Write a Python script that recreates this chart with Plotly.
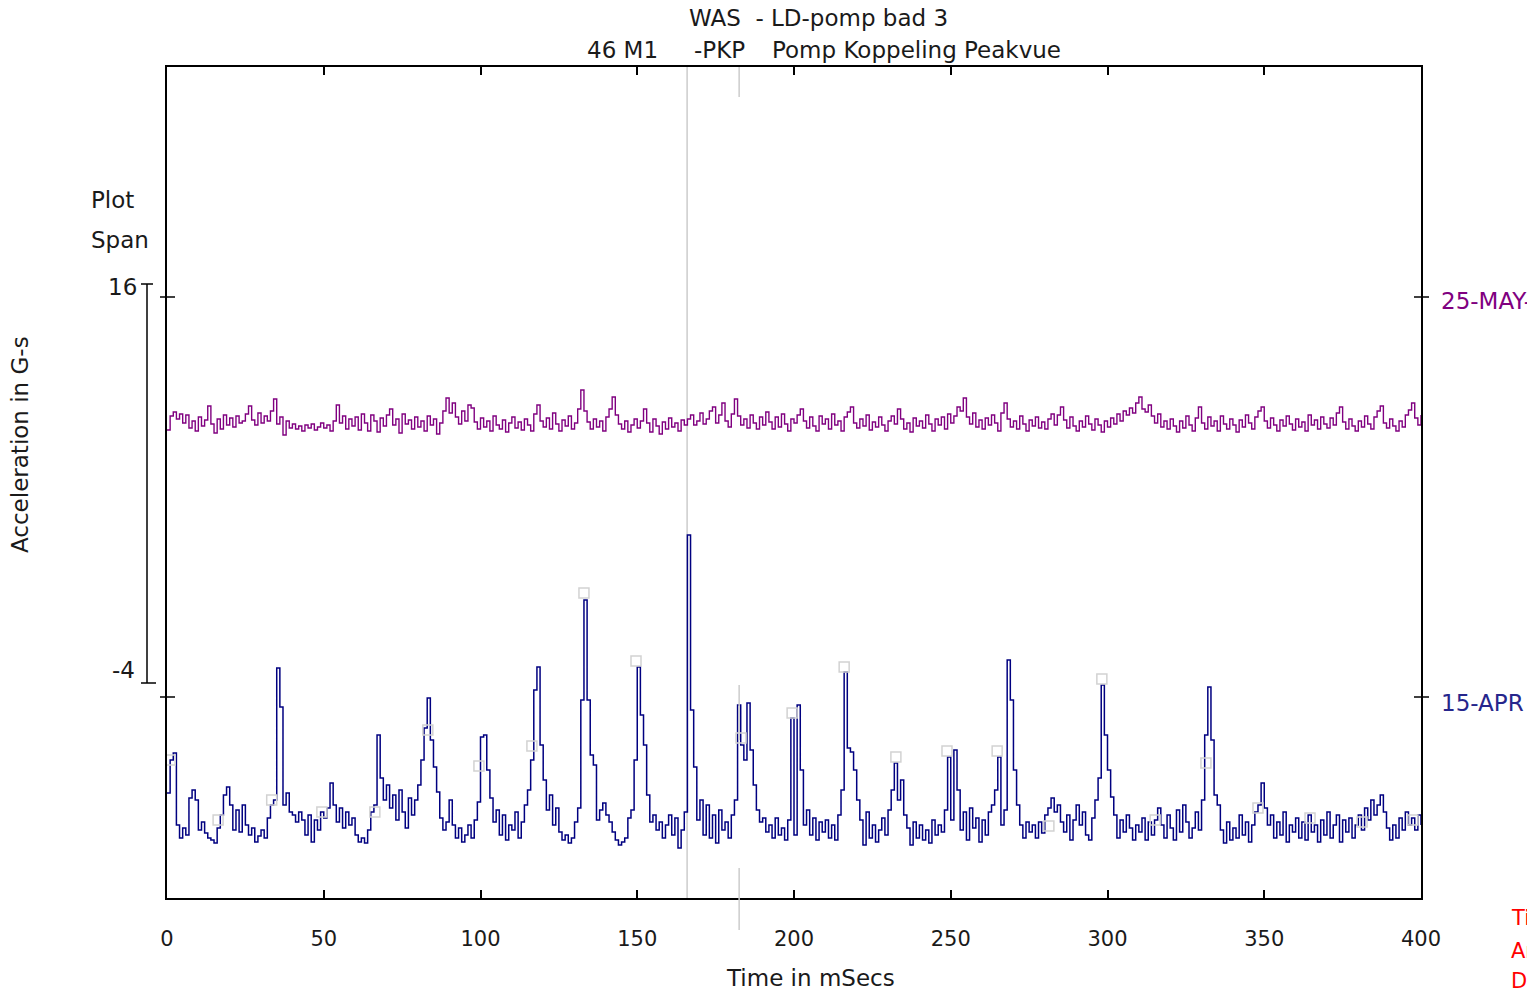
import plotly.graph_objects as go

# ---------------- data ----------------
# Time axis (ms), one sample per ms
time_ms = list(range(0, 401))

# 15-APR Peakvue waveform, G-s relative to its reference level
apr15_g = [
    -4.8, -3.15, -2.8, -6.4, -7.05, -6.55, -6.9, -5.05, -4.65, -5.15,
    -6.65, -6.25, -6.8, -7.05, -7.15, -7.3, -6.55, -5.9, -4.9, -4.5,
    -5.4, -6.65, -5.65, -6.75, -5.4, -6.4, -6.9, -6.55, -7.25, -6.95,
    -6.65, -7.05, -6.05, -5.4, -5.15, 1.45, -0.5, -5.4, -4.8, -5.75,
    -5.9, -6.25, -5.75, -6.15, -6.9, -5.9, -7.25, -6.15, -6.65, -5.75,
    -6.05, -5.55, -4.3, -5.4, -6.25, -5.55, -6.55, -5.75, -6.4, -6.05,
    -6.9, -7.25, -7.05, -7.3, -6.65, -5.75, -5.4, -1.9, -4.05, -5.15,
    -4.4, -5.55, -4.9, -6.15, -4.65, -5.75, -6.55, -5.05, -5.9, -5.15,
    -4.4, -3.15, -1.55, -0.05, -2.15, -3.5, -4.75, -6.05, -6.65, -6.25,
    -5.15, -6.4, -7.05, -6.55, -7.25, -6.9, -6.4, -7.05, -6.15, -5.25,
    -2.0, -1.9, -3.65, -5.05, -6.25, -5.65, -6.9, -5.9, -7.15, -6.4,
    -6.65, -5.75, -7.05, -6.25, -5.4, -4.65, -3.15, 0.35, 1.5, -2.4,
    -4.15, -5.65, -4.9, -6.4, -5.55, -6.75, -7.15, -6.9, -7.3, -7.05,
    -6.25, -5.55, -0.15, 4.85, -0.15, -2.9, -3.4, -6.15, -5.65, -5.3,
    -5.9, -6.25, -6.75, -7.15, -7.4, -7.25, -7.05, -6.05, -5.65, -3.15,
    1.5, -0.9, -2.4, -4.9, -6.25, -5.9, -6.65, -6.25, -7.05, -6.4,
    -5.9, -6.9, -6.05, -7.55, -6.65, -5.75, 8.1, -0.65, -3.5, -6.15,
    -5.15, -6.9, -5.4, -7.05, -5.9, -7.3, -5.65, -6.65, -6.25, -7.05,
    -5.9, -5.15, -0.4, -2.4, -3.15, -0.3, -2.65, -4.4, -5.65, -6.25,
    -6.05, -6.75, -6.4, -7.05, -6.05, -6.9, -6.55, -7.15, -6.15, -1.05,
    -6.9, -0.4, -3.65, -6.4, -5.65, -6.9, -6.05, -7.15, -6.25, -6.75,
    -6.15, -7.05, -6.4, -7.15, -5.9, -4.65, 1.25, -2.55, -2.75, -3.65,
    -5.15, -6.15, -7.4, -5.75, -7.05, -6.4, -7.25, -6.65, -6.05, -6.9,
    -5.65, -4.65, -3.3, -5.15, -4.15, -5.9, -6.55, -7.4, -6.25, -7.05,
    -6.4, -7.15, -6.65, -7.3, -6.15, -6.9, -6.4, -6.75, -5.65, -3.0,
    -6.15, -2.65, -4.65, -6.65, -5.75, -7.15, -5.55, -6.55, -6.05, -7.25,
    -6.15, -6.9, -5.75, -5.4, -4.65, -3.0, -6.4, -5.65, 1.85, -0.15,
    -3.65, -5.4, -6.4, -7.05, -6.25, -6.75, -6.4, -7.05, -6.25, -6.8,
    -5.9, -5.55, -5.05, -5.75, -5.4, -6.25, -6.75, -5.9, -7.15, -6.15,
    -5.4, -6.4, -5.75, -6.9, -7.15, -6.05, -5.15, -4.05, 0.6, -1.9,
    -3.65, -5.0, -5.9, -7.05, -6.15, -6.75, -5.9, -6.55, -7.15, -6.4,
    -6.75, -6.05, -7.15, -6.25, -6.9, -6.15, -5.55, -6.4, -7.05, -5.9,
    -6.55, -7.15, -5.65, -6.75, -5.4, -6.25, -7.05, -6.55, -5.75, -6.65,
    -5.15, -1.9, 0.5, -2.15, -4.9, -5.4, -6.65, -7.3, -6.25, -7.15,
    -6.55, -7.05, -5.9, -6.9, -6.25, -7.25, -6.4, -5.75, -5.4, -4.3,
    -5.55, -6.4, -5.9, -7.05, -6.25, -6.9, -5.75, -7.25, -6.4, -6.75,
    -6.05, -7.05, -6.25, -7.15, -5.9, -6.75, -6.4, -7.25, -6.15, -6.9,
    -5.75, -7.05, -6.4, -5.9, -7.25, -6.15, -6.75, -6.05, -7.05, -6.4,
    -5.9, -6.65, -5.55, -6.15, -5.15, -5.9, -5.4, -4.9, -5.75, -6.55,
    -7.15, -6.4, -7.05, -6.05, -6.65, -5.75, -6.4, -6.05, -6.65, -5.9, -6.4,
]

# 25-MAY Peakvue waveform, G-s relative to its reference level
may25_g = [
    -6.65, -5.95, -5.75, -6.1, -5.85, -6.3, -5.9, -6.55, -6.2, -6.7,
    -6.0, -6.45, -6.15, -5.45, -6.35, -6.8, -6.1, -6.6, -5.9, -6.4,
    -6.05, -6.5, -5.95, -6.3, -6.2, -5.85, -5.45, -6.15, -6.4, -5.8,
    -6.3, -5.95, -6.2, -5.7, -5.1, -6.35, -6.0, -6.9, -6.2, -6.55,
    -6.35, -6.6, -6.45, -6.7, -6.4, -6.55, -6.35, -6.65, -6.5, -6.3,
    -6.55, -6.4, -6.7, -6.2, -5.4, -6.3, -5.95, -6.6, -6.1, -6.45,
    -6.0, -6.65, -5.85, -6.3, -6.7, -5.9, -6.2, -6.75, -6.05, -6.45,
    -5.9, -5.6, -6.4, -6.1, -6.8, -5.85, -6.35, -6.15, -6.6, -6.0,
    -6.5, -6.2, -6.7, -5.95, -6.4, -6.1, -6.85, -6.3, -5.7, -5.05,
    -5.8, -5.3, -6.0, -6.35, -5.7, -6.2, -5.4, -5.55, -6.25, -6.6,
    -6.05, -6.5, -6.2, -6.7, -5.95, -6.4, -6.6, -6.15, -6.75, -6.3,
    -6.0, -6.55, -6.25, -6.65, -6.1, -6.4, -6.7, -5.85, -5.4, -6.2,
    -6.5, -6.05, -6.6, -5.8, -6.35, -6.7, -6.15, -6.45, -5.95, -6.6,
    -6.3, -5.6, -4.65, -5.7, -6.25, -6.6, -6.1, -6.5, -6.2, -6.7,
    -6.0, -5.6, -5.0, -5.9, -6.35, -6.6, -6.2, -6.75, -6.4, -6.1,
    -6.55, -6.2, -5.6, -6.3, -6.75, -6.1, -6.45, -6.85, -6.25, -6.6,
    -6.05, -6.5, -6.3, -6.7, -6.15, -6.4, -6.1, -5.9, -6.4, -6.2,
    -5.8, -6.35, -6.1, -5.7, -5.5, -6.3, -5.9, -5.3, -6.2, -6.5,
    -5.85, -5.1, -5.95, -6.4, -6.1, -6.55, -5.9, -6.3, -6.6, -6.0,
    -6.4, -5.75, -6.25, -6.6, -6.0, -6.5, -5.85, -6.35, -6.7, -6.1,
    -6.3, -5.9, -5.6, -6.2, -6.55, -6.0, -6.45, -6.7, -5.95, -6.35,
    -6.1, -6.6, -5.85, -6.4, -6.2, -6.7, -6.0, -5.75, -5.5, -6.3,
    -6.55, -6.1, -6.45, -5.9, -6.65, -6.25, -6.5, -6.0, -6.4, -6.7,
    -6.2, -5.95, -6.35, -5.6, -6.1, -6.6, -6.3, -6.75, -6.05, -6.45,
    -6.2, -6.55, -5.9, -6.35, -6.7, -6.1, -6.4, -6.0, -6.6, -5.85,
    -6.3, -5.95, -5.5, -5.7, -5.05, -6.0, -6.35, -5.8, -6.5, -6.15,
    -6.6, -6.05, -6.4, -5.9, -6.3, -6.7, -5.8, -5.3, -6.1, -6.5,
    -6.2, -6.6, -5.95, -6.35, -6.7, -6.15, -6.45, -6.0, -6.55, -6.25,
    -6.6, -6.1, -5.85, -6.4, -5.9, -5.5, -6.15, -6.55, -6.0, -6.45,
    -6.7, -6.2, -6.5, -5.95, -6.35, -6.65, -6.1, -6.4, -6.75, -6.2,
    -6.5, -6.05, -6.35, -5.85, -6.2, -5.7, -5.9, -5.55, -5.8, -5.3,
    -5.0, -5.6, -5.75, -5.4, -5.95, -6.3, -5.85, -6.5, -6.2, -6.6,
    -6.1, -6.45, -6.75, -6.2, -6.55, -5.95, -6.4, -6.7, -6.05, -5.5,
    -6.3, -6.6, -6.0, -6.45, -6.2, -6.7, -5.95, -6.35, -6.6, -6.1,
    -6.4, -6.75, -6.15, -6.5, -5.9, -6.3, -6.6, -6.0, -5.7, -5.5,
    -6.2, -6.55, -6.05, -6.4, -6.7, -6.15, -6.45, -5.95, -6.35, -6.65,
    -6.1, -6.5, -6.25, -6.7, -5.9, -6.4, -6.15, -6.6, -6.0, -6.35,
    -6.55, -6.05, -6.4, -5.8, -5.5, -6.25, -6.6, -6.1, -6.45, -6.7,
    -6.2, -6.5, -5.95, -6.35, -6.6, -6.0, -5.7, -5.45, -6.3, -6.55,
    -6.1, -6.45, -6.7, -6.2, -6.5, -5.9, -5.65, -5.3, -6.05, -6.4, -5.9,
]

# harmonic marker boxes on the 15-APR trace
marker_ms = [1.0, 16.3, 33.4, 49.4, 66.3, 83.2, 99.5, 116.4, 133.0, 149.6,
             183.1, 199.4, 216.0, 232.5, 248.8, 264.8, 281.3, 298.2, 315.2,
             331.4, 348.0, 364.6, 381.2, 397.4]
marker_g = [-3.15, -6.15, -5.15, -5.75, -5.75, -1.65, -3.45, -2.45, 5.2, 1.8,
            -2.05, -0.8, 1.5, -3.0, -2.7, -2.7, -6.45, 0.9, -6.15,
            -3.3, -5.55, -6.05, -6.25, -6.15]

# trace labels and reference (offset) levels in the waterfall
trace_dates = ["15-APR", "25-MAY-"]
ref_levels = [0, 20]
span_labels = ["16", "-4"]
x_ticks = [0, 50, 100, 150, 200, 250, 300, 350, 400]
cursor_ms = 165.9
cursor2_ms = 182.5

# ---------------- styling / layout ----------------
FONT = "DejaVu Sans"
TXT = "#1a1a1a"
BLUE = "#000080"
PURPLE = "#800080"
GRAY = "#cccccc"
OFF = 8                     # page body margin
W, H = 1535 - OFF, 993 - OFF
L, T = 167 - OFF, 67 - OFF
R = W - (1421 - OFF)
B = H - (898 - OFF)
PW, PH = W - L - R, H - T - B
Y_MIN, Y_MAX = -10.05, 31.5


def xp(px):
    return (px - OFF - L) / PW


def yp(py):
    return (H - B - (py - OFF)) / PH


fig = go.Figure()

fig.add_trace(go.Scatter(
    x=time_ms, y=[v + ref_levels[1] for v in may25_g], mode="lines",
    line=dict(color=PURPLE, width=1.4, shape="hv"), hoverinfo="skip"))
fig.add_trace(go.Scatter(
    x=time_ms, y=[v + ref_levels[0] for v in apr15_g], mode="lines",
    line=dict(color=BLUE, width=1.5, shape="hv"), hoverinfo="skip"))
fig.add_trace(go.Scatter(
    x=marker_ms, y=[v + ref_levels[0] for v in marker_g], mode="markers",
    marker=dict(symbol="square-open", size=10, color="#d2d2d2",
                line=dict(width=1.5, color="#d2d2d2")), hoverinfo="skip"))

shapes = []
# cursor line (full height)
shapes.append(dict(type="line", xref="x", yref="paper", x0=cursor_ms, x1=cursor_ms,
                   y0=0, y1=1, line=dict(color=GRAY, width=1.5), layer="below"))
# second cursor segments
for a, b in [(67, 97), (685, 740), (868, 930)]:
    shapes.append(dict(type="line", xref="paper", yref="paper",
                       x0=cursor2_ms / x_ticks[-1], x1=cursor2_ms / x_ticks[-1],
                       y0=yp(b), y1=yp(a), line=dict(color=GRAY, width=1.5)))
# reference level ticks crossing both y axes
for ref in ref_levels:
    for a, b in [(160, 175), (1414, 1429)]:
        shapes.append(dict(type="line", xref="paper", yref="y", x0=xp(a), x1=xp(b),
                           y0=ref, y1=ref, line=dict(color="black", width=1.5)))
# plot span bar
shapes.append(dict(type="line", xref="paper", yref="paper", x0=xp(147), x1=xp(147),
                   y0=yp(683), y1=yp(284), line=dict(color="black", width=1.5)))
shapes.append(dict(type="line", xref="paper", yref="paper", x0=xp(141), x1=xp(153),
                   y0=yp(284), y1=yp(284), line=dict(color="black", width=1.5)))
shapes.append(dict(type="line", xref="paper", yref="paper", x0=xp(141), x1=xp(156),
                   y0=yp(683), y1=yp(683), line=dict(color="black", width=1.5)))

ann = []


def add_text(text, x, y, xanchor="left", color=TXT, size=23, angle=0):
    ann.append(dict(text=text, xref="paper", yref="paper", x=xp(x), y=yp(y),
                    xanchor=xanchor, yanchor="middle", showarrow=False,
                    textangle=angle, font=dict(family=FONT, size=size, color=color)))


add_text("WAS\u00a0 - LD-pomp bad 3", 818, 18, "center")
add_text("46 M1", 585, 50)
add_text("-PKP", 692, 50)
add_text("Pomp Koppeling Peakvue", 770, 50)
add_text("Plot", 89, 200)
add_text("Span", 89, 240)
add_text(span_labels[0], 139, 287, "right")
add_text(span_labels[1], 137, 670, "right")
add_text("Acceleration in G-s", 20, 445, "center", angle=-90)
add_text(trace_dates[1], 1439, 301, color=PURPLE, size=23)
add_text(trace_dates[0], 1439, 703, color="#26268c", size=23)
add_text("Time in mSecs", 810, 978, "center")
add_text("Ti", 1509, 918, color="#ff0000", size=21)
add_text("An", 1509, 951, color="#ff0000", size=21)
add_text("Dt", 1509, 981, color="#ff0000", size=21)

fig.update_layout(
    width=W, height=H, margin=dict(l=L, r=R, t=T, b=B, pad=0),
    paper_bgcolor="white", plot_bgcolor="white", showlegend=False,
    shapes=shapes, annotations=ann,
    xaxis=dict(range=[x_ticks[0], x_ticks[-1]], tickvals=x_ticks, ticks="inside",
               ticklen=8, tickwidth=1.5, tickcolor="black", mirror="ticks",
               showline=True, linecolor="black", linewidth=1.5, showgrid=False,
               zeroline=False, ticklabelstandoff=21,
               tickfont=dict(family=FONT, size=21, color=TXT)),
    yaxis=dict(range=[Y_MIN, Y_MAX], showticklabels=False, ticks="",
               showline=True, mirror=True, linecolor="black", linewidth=1.5,
               showgrid=False, zeroline=False),
)

fig.write_html("out.html")
